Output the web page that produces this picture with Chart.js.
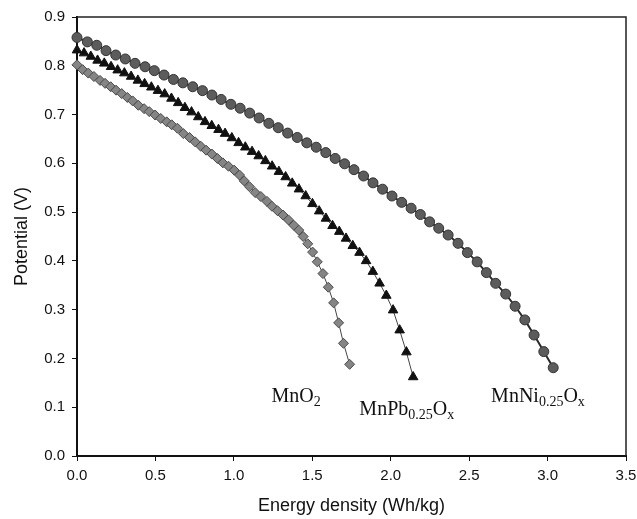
<!DOCTYPE html>
<html>
<head>
<meta charset="utf-8">
<script src="https://cdn.jsdelivr.net/npm/chart.js@4.4.1/dist/chart.umd.min.js"></script>
<style>
  html, body { margin: 0; padding: 0; background: #fff; }
  #potencial { display: block; }
</style>
</head>
<body>
<canvas id="potencial" width="637" height="519"></canvas>
<script>
// Curvas de descarga: energía (Wh/kg) frente a potencial (V)
const energiaNi = [0.00, 0.066, 0.126, 0.185, 0.247, 0.308, 0.370, 0.434, 0.493, 0.555, 0.615, 0.675, 0.738, 0.800, 0.860, 0.919, 0.981, 1.040, 1.101, 1.161, 1.223, 1.283, 1.343, 1.404, 1.465, 1.525, 1.586, 1.646, 1.706, 1.766, 1.827, 1.887, 1.948, 2.008, 2.070, 2.130, 2.189, 2.248, 2.306, 2.366, 2.429, 2.489, 2.551, 2.610, 2.669, 2.733, 2.793, 2.855, 2.914, 2.976, 3.036];
const potencialNi = [0.858, 0.849, 0.842, 0.831, 0.822, 0.814, 0.805, 0.798, 0.790, 0.781, 0.772, 0.765, 0.757, 0.749, 0.740, 0.731, 0.721, 0.713, 0.703, 0.693, 0.682, 0.673, 0.662, 0.653, 0.642, 0.633, 0.622, 0.610, 0.599, 0.587, 0.574, 0.560, 0.547, 0.533, 0.520, 0.508, 0.495, 0.480, 0.467, 0.453, 0.436, 0.417, 0.398, 0.376, 0.354, 0.332, 0.307, 0.279, 0.248, 0.214, 0.181];

const energiaPb = [0.00, 0.045, 0.088, 0.131, 0.174, 0.217, 0.259, 0.302, 0.345, 0.388, 0.431, 0.474, 0.516, 0.559, 0.602, 0.645, 0.688, 0.730, 0.773, 0.816, 0.859, 0.902, 0.944, 0.987, 1.030, 1.073, 1.116, 1.158, 1.201, 1.244, 1.287, 1.330, 1.372, 1.415, 1.458, 1.501, 1.544, 1.587, 1.629, 1.672, 1.715, 1.758, 1.801, 1.843, 1.886, 1.929, 1.972, 2.015, 2.057, 2.100, 2.143];
const potencialPb = [0.832, 0.826, 0.819, 0.811, 0.805, 0.798, 0.791, 0.785, 0.778, 0.770, 0.763, 0.756, 0.749, 0.742, 0.733, 0.724, 0.714, 0.705, 0.695, 0.685, 0.677, 0.669, 0.661, 0.652, 0.642, 0.633, 0.624, 0.615, 0.605, 0.594, 0.583, 0.572, 0.559, 0.547, 0.533, 0.517, 0.502, 0.487, 0.472, 0.460, 0.446, 0.431, 0.417, 0.400, 0.378, 0.354, 0.329, 0.299, 0.258, 0.213, 0.162];

const energiaMnO2 = [0.00, 0.036, 0.072, 0.108, 0.147, 0.179, 0.215, 0.249, 0.285, 0.321, 0.355, 0.391, 0.428, 0.461, 0.498, 0.534, 0.572, 0.604, 0.640, 0.678, 0.717, 0.753, 0.789, 0.823, 0.860, 0.895, 0.930, 0.966, 1.002, 1.036, 1.066, 1.100, 1.136, 1.172, 1.211, 1.243, 1.278, 1.313, 1.348, 1.382, 1.414, 1.442, 1.471, 1.502, 1.532, 1.568, 1.602, 1.636, 1.668, 1.699, 1.738];
const potencialMnO2 = [0.802, 0.792, 0.785, 0.778, 0.770, 0.764, 0.757, 0.750, 0.743, 0.735, 0.728, 0.719, 0.712, 0.706, 0.699, 0.692, 0.685, 0.679, 0.672, 0.661, 0.653, 0.644, 0.635, 0.627, 0.619, 0.610, 0.601, 0.594, 0.586, 0.576, 0.564, 0.552, 0.540, 0.532, 0.522, 0.512, 0.503, 0.494, 0.484, 0.473, 0.463, 0.450, 0.435, 0.418, 0.398, 0.374, 0.346, 0.314, 0.273, 0.231, 0.188];

// Nombres de cada material (texto y subíndices)
const nombreMnO2 = [["MnO", false], ["2", true]];
const nombrePb = [["MnPb", false], ["0.25", true], ["O", false], ["x", true]];
const nombreNi = [["MnNi", false], ["0.25", true], ["O", false], ["x", true]];

const puntos = (xs, ys) => xs.map((x, i) => ({ x: x, y: ys[i] }));

// Dónde va cada nombre, en unidades de los ejes
const rotulos = [
  { partes: nombreMnO2, x: 1.24, y: 0.126 },
  { partes: nombrePb, x: 1.80, y: 0.098 },
  { partes: nombreNi, x: 2.64, y: 0.126 },
];

const rotulosPlugin = {
  id: "rotulos",
  afterDatasetsDraw(chart) {
    const { ctx, scales } = chart;
    ctx.save();
    ctx.fillStyle = "#111";
    ctx.textBaseline = "alphabetic";
    rotulos.forEach((r) => {
      let px = scales.x.getPixelForValue(r.x);
      const py = scales.y.getPixelForValue(r.y) + 7;
      r.partes.forEach(([txt, sub]) => {
        ctx.font = sub ? "14px 'Liberation Serif'" : "20px 'Liberation Serif'";
        ctx.fillText(txt, px, sub ? py + 4 : py);
        px += ctx.measureText(txt).width;
      });
    });
    ctx.restore();
  },
};

// Cierra el recuadro por arriba y por la derecha
const marcoPlugin = {
  id: "marco",
  afterDraw(chart) {
    const { ctx, chartArea: a } = chart;
    ctx.save();
    ctx.strokeStyle = "#222";
    ctx.lineWidth = 1.5;
    ctx.beginPath();
    ctx.moveTo(a.left, a.top);
    ctx.lineTo(a.right, a.top);
    ctx.lineTo(a.right, a.bottom);
    ctx.stroke();
    ctx.restore();
  },
};

const fuenteEje = { family: "'Liberation Sans', Arial, sans-serif", size: 15 };

new Chart(document.getElementById("potencial").getContext("2d"), {
  type: "line",
  data: {
    datasets: [
      {
        label: "MnO2",
        data: puntos(energiaMnO2, potencialMnO2),
        pointStyle: "rectRot",
        pointRadius: 5,
        backgroundColor: "#858585",
        borderColor: "#444",
        pointBorderColor: "#4a4a4a",
        pointBorderWidth: 1,
        borderWidth: 1,
        clip: false,
      },
      {
        label: "MnPb0.25Ox",
        data: puntos(energiaPb, potencialPb),
        pointStyle: "triangle",
        pointRadius: 5.5,
        backgroundColor: "#111",
        borderColor: "#444",
        pointBorderColor: "#111",
        pointBorderWidth: 1,
        borderWidth: 1,
        clip: false,
      },
      {
        label: "MnNi0.25Ox",
        data: puntos(energiaNi, potencialNi),
        pointStyle: "circle",
        pointRadius: 5,
        backgroundColor: "#5c5c5c",
        borderColor: "#2a2a2a",
        pointBorderColor: "#333",
        pointBorderWidth: 1,
        borderWidth: 2,
        clip: false,
      },
    ],
  },
  options: {
    responsive: false,
    animation: false,
    devicePixelRatio: 1,
    layout: { padding: { top: 17, right: 11, left: 0, bottom: 0 } },
    plugins: {
      legend: { display: false },
      tooltip: { enabled: false },
    },
    scales: {
      x: {
        type: "linear",
        min: 0,
        max: 3.5,
        afterFit: (scale) => {
          scale.height = 63;
          scale.paddingLeft = 0;
          scale.paddingRight = 0;
        },
        border: { display: true, color: "#111", width: 2 },
        grid: { drawOnChartArea: false, drawTicks: true, tickLength: 5, color: "#111" },
        ticks: {
          stepSize: 0.5,
          color: "#111",
          font: fuenteEje,
          padding: 6,
          maxRotation: 0,
          callback: (v) => v.toFixed(1),
        },
        title: {
          display: true,
          text: "Energy density (Wh/kg)",
          color: "#111",
          font: { family: "'Liberation Sans', Arial, sans-serif", size: 18 },
          padding: { top: 0, bottom: 2 },
        },
      },
      y: {
        min: 0,
        max: 0.9,
        afterFit: (scale) => {
          scale.width = 77;
          scale.paddingTop = 0;
          scale.paddingBottom = 0;
        },
        border: { display: true, color: "#111", width: 2 },
        grid: { drawOnChartArea: false, drawTicks: true, tickLength: 5, color: "#111" },
        ticks: {
          stepSize: 0.1,
          color: "#111",
          font: fuenteEje,
          padding: 7,
          callback: (v) => v.toFixed(1),
        },
        title: {
          display: true,
          text: "Potential (V)",
          color: "#111",
          font: { family: "'Liberation Sans', Arial, sans-serif", size: 18 },
          padding: { top: 11, bottom: 0 },
        },
      },
    },
  },
  plugins: [rotulosPlugin, marcoPlugin],
});
</script>
</body>
</html>
